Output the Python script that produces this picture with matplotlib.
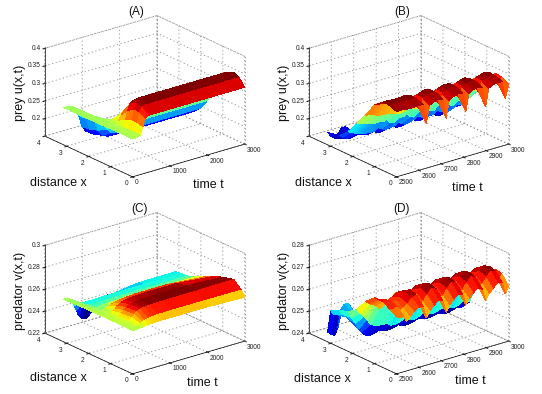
import numpy as np
import matplotlib
matplotlib.use("Agg")
import matplotlib.pyplot as plt
from matplotlib.transforms import ScaledTranslation
from mpl_toolkits.mplot3d import proj3d

dotted = (0, (1.5, 3))
plt.rcParams['font.family'] = ['Liberation Sans', 'DejaVu Sans']
plt.rcParams['grid.linestyle'] = dotted
plt.rcParams['grid.color'] = '#8a8a8a'
plt.rcParams['grid.linewidth'] = 0.6
plt.rcParams['axes.linewidth'] = 0.5

xLong = [0.0, 0.25, 0.5, 0.8, 1.1, 1.4, 1.7, 2.0, 2.4, 2.8, 3.14]
tLong = [0, 100, 200, 280, 340, 400, 490, 600, 750, 1100, 2000, 3000]
preyA = [
    [.258, .258, .262, .284, .306, .312, .312, .312, .312, .312, .312, .312],
    [.258, .258, .263, .289, .316, .328, .332, .332, .332, .332, .332, .332],
    [.258, .258, .263, .289, .318, .332, .338, .340, .340, .340, .340, .340],
    [.258, .258, .262, .282, .305, .322, .329, .332, .332, .332, .332, .332],
    [.258, .258, .260, .271, .284, .292, .297, .298, .298, .298, .298, .298],
    [.257, .257, .258, .262, .266, .266, .264, .261, .260, .260, .260, .260],
    [.257, .257, .257, .256, .250, .243, .234, .228, .226, .225, .225, .225],
    [.257, .257, .256, .252, .243, .230, .213, .200, .196, .195, .195, .195],
    [.257, .257, .255, .248, .238, .226, .198, .180, .173, .172, .172, .172],
    [.257, .257, .255, .246, .234, .223, .190, .172, .165, .163, .163, .163],
    [.256, .256, .254, .245, .232, .222, .186, .170, .1625, .160, .160, .160],
]

xPred = [0.0, 0.15, 0.5, 1.0, 1.4, 1.8, 2.2, 2.6, 2.9, 3.14]
predC = [
    [.2595, .2595, .2598, .2600, .2603, .2606, .2608, .2610, .2612, .2612, .2612, .2600],
    [.2596, .2597, .2602, .2612, .2622, .2632, .2640, .2645, .2650, .2652, .2652, .2650],
    [.2598, .2600, .2612, .2635, .2658, .2678, .2692, .2700, .2704, .2708, .2710, .2715],
    [.2598, .2600, .2610, .2628, .2650, .2672, .2690, .2698, .2704, .2708, .2708, .2690],
    [.2598, .2598, .2600, .2612, .2628, .2648, .2668, .2680, .2688, .2695, .2695, .2660],
    [.2595, .2595, .2590, .2588, .2592, .2602, .2618, .2630, .2640, .2650, .2650, .2620],
    [.2595, .2592, .2580, .2575, .2570, .2570, .2572, .2575, .2580, .2585, .2585, .2585],
    [.2592, .2590, .2578, .2562, .2552, .2548, .2548, .2548, .2550, .2552, .2552, .2552],
    [.2590, .2590, .2572, .2552, .2545, .2542, .2542, .2542, .2544, .2546, .2546, .2546],
    [.2590, .2590, .2565, .2500, .2450, .2400, .2360, .2350, .2400, .2500, .2540, .2542],
]

tShort = [2500, 2515, 2531, 2545, 2559, 2577, 2597, 2619, 2633, 2647, 2665, 2685,
          2707, 2721, 2735, 2753, 2773, 2795, 2809, 2823, 2841, 2861,
          2883, 2897, 2911, 2929, 2949, 2971, 2985, 3000]
xB = [0.0, 0.3, 0.6, 1.0, 1.4, 1.8, 2.2, 2.6, 3.14]
preyB = [
    [.336, .336, .336, .334, .333, .334, .336, .333, .278, .326, .332, .336, .332, .276, .324, .331, .335, .334, .278, .328, .334, .337, .333, .276, .326, .332, .335, .333, .283, .320],
    [.344, .344, .344, .343, .342, .343, .345, .341, .308, .336, .340, .346, .341, .306, .334, .339, .345, .342, .309, .337, .341, .347, .341, .307, .336, .340, .345, .341, .311, .331],
    [.346, .346, .345, .345, .344, .345, .346, .343, .324, .338, .342, .346, .342, .322, .337, .341, .345, .343, .325, .339, .343, .347, .342, .323, .338, .342, .345, .342, .326, .334],
    [.326, .325, .324, .323, .322, .323, .321, .316, .308, .310, .314, .318, .315, .306, .309, .313, .317, .316, .309, .311, .315, .319, .315, .307, .310, .314, .317, .316, .310, .308],
    [.285, .283, .280, .277, .274, .272, .272, .268, .265, .261, .263, .269, .267, .264, .260, .262, .268, .269, .266, .262, .264, .270, .268, .265, .261, .263, .268, .268, .266, .262],
    [.250, .248, .244, .240, .238, .236, .236, .232, .238, .226, .222, .232, .231, .237, .225, .221, .231, .233, .239, .227, .223, .233, .232, .238, .226, .222, .231, .232, .240, .230],
    [.215, .210, .205, .200, .198, .196, .195, .195, .202, .196, .190, .192, .194, .201, .195, .189, .191, .196, .203, .197, .191, .193, .195, .202, .196, .190, .191, .195, .203, .198],
    [.192, .185, .178, .176, .180, .182, .176, .172, .176, .178, .170, .168, .171, .175, .177, .169, .167, .173, .177, .179, .171, .169, .172, .176, .178, .170, .167, .172, .177, .178],
    [.185, .172, .163, .172, .186, .188, .170, .165, .162, .172, .176, .168, .164, .161, .171, .175, .167, .166, .163, .173, .177, .169, .165, .162, .172, .176, .167, .165, .163, .172],
]

xD = [0.0, 0.3, 0.6, 1.0, 1.4, 1.8, 2.2, 2.6, 3.0, 3.14]
predD = [
    [.2660, .2650, .2655, .2625, .2640, .2660, .2675, .2670, .2615, .2640, .2660, .2680, .2670, .2615, .2640, .2660, .2680, .2675, .2620, .2645, .2665, .2685, .2670, .2615, .2640, .2660, .2680, .2675, .2620, .2650],
    [.2680, .2675, .2680, .2660, .2665, .2680, .2700, .2710, .2660, .2670, .2695, .2720, .2710, .2660, .2670, .2695, .2720, .2712, .2662, .2672, .2697, .2722, .2710, .2660, .2670, .2695, .2720, .2712, .2665, .2690],
    [.2700, .2695, .2695, .2685, .2685, .2695, .2715, .2720, .2695, .2695, .2710, .2730, .2720, .2695, .2695, .2710, .2730, .2722, .2697, .2697, .2712, .2732, .2720, .2695, .2695, .2710, .2730, .2722, .2697, .2700],
    [.2700, .2690, .2685, .2680, .2670, .2680, .2695, .2695, .2685, .2675, .2685, .2700, .2695, .2685, .2675, .2685, .2700, .2697, .2687, .2677, .2687, .2702, .2695, .2685, .2675, .2685, .2700, .2697, .2687, .2675],
    [.2665, .2650, .2640, .2635, .2615, .2620, .2630, .2625, .2625, .2610, .2615, .2630, .2625, .2625, .2610, .2615, .2630, .2627, .2627, .2612, .2617, .2632, .2625, .2625, .2610, .2615, .2630, .2627, .2627, .2610],
    [.2610, .2590, .2570, .2550, .2525, .2515, .2510, .2505, .2510, .2495, .2490, .2495, .2505, .2510, .2495, .2490, .2495, .2507, .2512, .2497, .2492, .2497, .2505, .2510, .2495, .2490, .2495, .2507, .2512, .2495],
    [.2580, .2550, .2520, .2490, .2470, .2450, .2445, .2450, .2455, .2450, .2445, .2445, .2450, .2455, .2450, .2445, .2445, .2452, .2457, .2452, .2447, .2447, .2450, .2455, .2450, .2445, .2445, .2452, .2457, .2450],
    [.2570, .2545, .2530, .2510, .2530, .2520, .2480, .2480, .2475, .2480, .2475, .2470, .2480, .2475, .2480, .2475, .2470, .2482, .2477, .2482, .2477, .2472, .2480, .2475, .2480, .2475, .2470, .2482, .2477, .2480],
    [.2550, .2525, .2520, .2540, .2560, .2560, .2520, .2510, .2500, .2510, .2510, .2505, .2510, .2500, .2510, .2510, .2505, .2512, .2502, .2512, .2512, .2507, .2510, .2500, .2510, .2510, .2505, .2512, .2502, .2510],
    [.2445, .2430, .2420, .2450, .2510, .2520, .2500, .2505, .2495, .2505, .2510, .2500, .2505, .2495, .2505, .2510, .2500, .2507, .2497, .2507, .2512, .2502, .2505, .2495, .2505, .2510, .2500, .2507, .2497, .2505],
]

ticksLong = [0, 1000, 2000, 3000]
ticksShort = [2500, 2600, 2700, 2800, 2900, 3000]
ticksX = [0, 1, 2, 3, 4]
ticksA = [0.2, 0.25, 0.3, 0.35, 0.4]
ticksC = [0.22, 0.24, 0.26, 0.28, 0.3]
ticksD = [0.24, 0.25, 0.26, 0.27, 0.28]

W, H = 542, 394
fig = plt.figure(figsize=(W / 100, H / 100), dpi=100)


def tickText(ax, pos, text, dx, dy, ha):
    # pixel shift from the projected tick, mplot3d cannot place these labels by itself
    px, py, _ = proj3d.proj_transform(pos[0], pos[1], pos[2], ax.get_proj())
    shift = ScaledTranslation(dx / 100, -dy / 100, fig.dpi_scale_trans)
    ax.text2D(px, py, text, fontsize=4.8, color='#222222', ha=ha, va='center',
              transform=ax.transData + shift, zorder=5)


def drawPanel(cx, cy, tVals, xVals, zVals, tTicks, zTicks, zLow, zHigh):
    size = 280
    ax = fig.add_axes([(cx - size / 2) / W, 1 - (cy + size / 2) / H, size / W, size / H],
                      projection='3d', proj_type='ortho', computed_zorder=False)
    ax.patch.set_alpha(0)
    ax.view_init(elev=21.6, azim=-128.4)
    ax.set_box_aspect((144, 142, 95), zoom=0.77)
    tLow, tHigh = tTicks[0], tTicks[-1]
    ax.set_xlim(tLow, tHigh)
    ax.set_ylim(0, 4)
    ax.set_zlim(zLow, zHigh)
    T, X = np.meshgrid(tVals, xVals)
    ax.plot_surface(T, X, np.array(zVals), cmap='jet', rstride=1, cstride=1,
                    linewidth=0, antialiased=False, shade=False, zorder=3)
    # top of the box and the far verticals are dotted like the grid
    ax.plot([tLow, tLow, tHigh, tHigh], [4, 4, 4, 0], [zLow, zHigh, zHigh, zHigh], ls=dotted, color='#8a8a8a', lw=0.6, zorder=1)
    ax.plot([tHigh, tHigh], [4, 4], [zLow, zHigh], ls=dotted, color='#8a8a8a', lw=0.6, zorder=1)
    ax.plot([tHigh, tHigh], [0, 0], [zLow, zHigh], ls=dotted, color='#8a8a8a', lw=0.6, zorder=1)
    ax.plot([tLow, tHigh], [4, 4], [zLow, zLow], ls=dotted, color='#8a8a8a', lw=0.6, zorder=1)
    ax.plot([tHigh, tHigh], [0, 4], [zLow, zLow], ls=dotted, color='#8a8a8a', lw=0.6, zorder=1)
    ax.set_xticks(tTicks)
    ax.set_yticks(ticksX)
    ax.set_zticks(zTicks)
    ax.tick_params(length=2, width=0.4, colors='#222222')
    ax.zaxis.set_ticks_position('upper')
    for axis in (ax.xaxis, ax.yaxis, ax.zaxis):
        axis.pane.set_facecolor('white')
        axis.pane.set_edgecolor('none')
        axis.line.set_linewidth(0.5)
        axis.label.set_visible(False)
        axis.offsetText.set_visible(False)
        for tick in axis.get_major_ticks():
            tick.label1.set_visible(False)
            tick.label2.set_visible(False)
    for t in tTicks:
        tickText(ax, (t, 0, zLow), str(t), 2.5, 6, 'left')
    for x in ticksX:
        tickText(ax, (tLow, x, zLow), str(x), -6, 7, 'center')
    for z in zTicks:
        tickText(ax, (tLow, 4, z), str(z), -4, 0, 'right')
    return ax


def label(px, py, text, size=9, rotation=0):
    fig.text(px / W, 1 - py / H, text, fontsize=size, rotation=rotation,
             ha='center', va='center', color='#111111')


drawPanel(141, 100, tLong, xLong, preyA, ticksLong, ticksA, 0.15, 0.4)
drawPanel(405, 100, tShort, xB, preyB, ticksShort, ticksA, 0.15, 0.4)
drawPanel(141, 297, tLong, xPred, predC, ticksLong, ticksC, 0.22, 0.3)
drawPanel(405, 297, tShort, xD, predD, ticksShort, ticksD, 0.24, 0.28)

label(136, 12, '(A)', 8.5)
label(402, 12, '(B)', 8.5)
label(139, 209, '(C)', 8.5)
label(402, 209, '(D)', 8.5)
label(20, 93, 'prey u(x,t)', rotation=90)
label(284, 93, 'prey u(x,t)', rotation=90)
label(20, 291, 'predator v(x,t)', rotation=90)
label(284, 291, 'predator v(x,t)', rotation=90)
label(58, 183, 'distance x')
label(323, 183, 'distance x')
label(58, 378, 'distance x')
label(322, 379, 'distance x')
label(208, 185, 'time t')
label(467, 188, 'time t')
label(202, 383, 'time t')
label(470, 381, 'time t')

fig.savefig('out.png', dpi=100)
